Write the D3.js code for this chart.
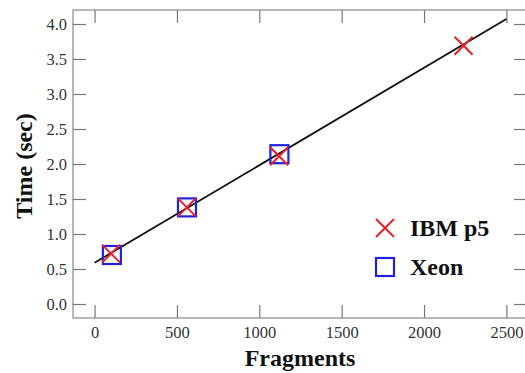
<!DOCTYPE html>
<html>
<head>
<meta charset="utf-8">
<script src="https://cdn.jsdelivr.net/npm/d3@7"></script>
<style>
	body { margin: 0; background: #fff; }
	svg { display: block; }
</style>
</head>
<body>
<div id="chart"></div>
<script>
// data
const ibmFragments = [100, 560, 1120, 2240]
const ibmTime = [0.72, 1.38, 2.11, 3.69]
const xeonFragments = [105, 561, 1122]
const xeonTime = [0.70, 1.38, 2.14]
const fitFragments = [0, 2500]
const fitTime = [0.59, 4.07]
const xTicks = [0, 500, 1000, 1500, 2000, 2500]
const yTicks = [0, 0.5, 1, 1.5, 2, 2.5, 3, 3.5, 4]

const width = 525
const height = 373
const frameLeft = 73, frameRight = 527, frameTop = 10, frameBottom = 318
const tickLen = 13
const red = "#e8202a"
const blue = "#2222dd"
const serif = "'Liberation Serif', 'Times New Roman', Times, serif"

const x = d3.scaleLinear().domain([-131, 2625]).range([frameLeft, frameRight])
const y = d3.scaleLinear().domain([-0.2, 4.2]).range([frameBottom, frameTop])

const svg = d3.select("#chart").append("svg").attr("width", width).attr("height", height)

// frame
svg.append("rect")
	.attr("x", frameLeft)
	.attr("y", frameTop)
	.attr("width", frameRight - frameLeft)
	.attr("height", frameBottom - frameTop)
	.attr("fill", "none")
	.attr("stroke", "#888")
	.attr("stroke-width", 1.2)

// axes, ticks drawn inward
const axisColor = "#777"
const gBottom = svg.append("g").attr("transform", `translate(0,${frameBottom})`)
	.call(d3.axisBottom(x).tickValues(xTicks).tickSizeInner(-tickLen).tickSizeOuter(0).tickPadding(8).tickFormat(d3.format("d")))
const gTop = svg.append("g").attr("transform", `translate(0,${frameTop})`)
	.call(d3.axisTop(x).tickValues(xTicks).tickSizeInner(-tickLen).tickSizeOuter(0).tickFormat(""))
const gLeft = svg.append("g").attr("transform", `translate(${frameLeft},0)`)
	.call(d3.axisLeft(y).tickValues(yTicks).tickSizeInner(-tickLen).tickSizeOuter(0).tickPadding(6).tickFormat(d3.format(".1f")))
const gRight = svg.append("g").attr("transform", `translate(${frameRight},0)`)
	.call(d3.axisRight(y).tickValues(yTicks).tickSizeInner(-tickLen).tickSizeOuter(0).tickFormat(""))

;[gBottom, gTop, gLeft, gRight].forEach(g => {
	g.select(".domain").remove()
	g.attr("font-family", serif).attr("font-size", 16.5)
	g.selectAll(".tick line").attr("stroke", axisColor).attr("stroke-width", 1.2)
	g.selectAll(".tick text").attr("fill", "#333")
})

// fitted line
svg.append("path")
	.datum(fitFragments.map((f, i) => [f, fitTime[i]]))
	.attr("fill", "none")
	.attr("stroke", "#111")
	.attr("stroke-width", 1.8)
	.attr("d", d3.line().x(d => x(d[0])).y(d => y(d[1])))

const half = 9
const crossPath = (cx, cy) => `M${cx - half},${cy - half}L${cx + half},${cy + half}M${cx - half},${cy + half}L${cx + half},${cy - half}`

// Xeon squares
svg.append("g").selectAll("rect")
	.data(xeonFragments.map((f, i) => [f, xeonTime[i]]))
	.enter()
	.append("rect")
	.attr("x", d => x(d[0]) - half)
	.attr("y", d => y(d[1]) - half)
	.attr("width", half * 2)
	.attr("height", half * 2)
	.attr("fill", "none")
	.attr("stroke", blue)
	.attr("stroke-width", 2.2)

// IBM p5 crosses
svg.append("g").selectAll("path")
	.data(ibmFragments.map((f, i) => [f, ibmTime[i]]))
	.enter()
	.append("path")
	.attr("d", d => crossPath(x(d[0]), y(d[1])))
	.attr("fill", "none")
	.attr("stroke", red)
	.attr("stroke-width", 2)

const titleText = sel => sel
	.attr("font-family", serif)
	.attr("font-size", 24)
	.attr("font-weight", "bold")
	.attr("fill", "#111")

// legend
const legend = svg.append("g")
legend.append("path").attr("d", crossPath(385, 228)).attr("stroke", red).attr("stroke-width", 2).attr("fill", "none")
legend.append("text").call(titleText).attr("x", 410).attr("y", 236).text("IBM p5")
legend.append("rect")
	.attr("x", 385 - half).attr("y", 267 - half)
	.attr("width", half * 2).attr("height", half * 2)
	.attr("fill", "none").attr("stroke", blue).attr("stroke-width", 2.2)
legend.append("text").call(titleText).attr("x", 410).attr("y", 275).text("Xeon")

// axis titles
svg.append("text")
	.call(titleText)
	.attr("x", 300)
	.attr("y", 366)
	.attr("text-anchor", "middle")
	.text("Fragments")

svg.append("text")
	.call(titleText)
	.attr("transform", "translate(32,166) rotate(-90)")
	.attr("text-anchor", "middle")
	.text("Time (sec)")
</script>
</body>
</html>
